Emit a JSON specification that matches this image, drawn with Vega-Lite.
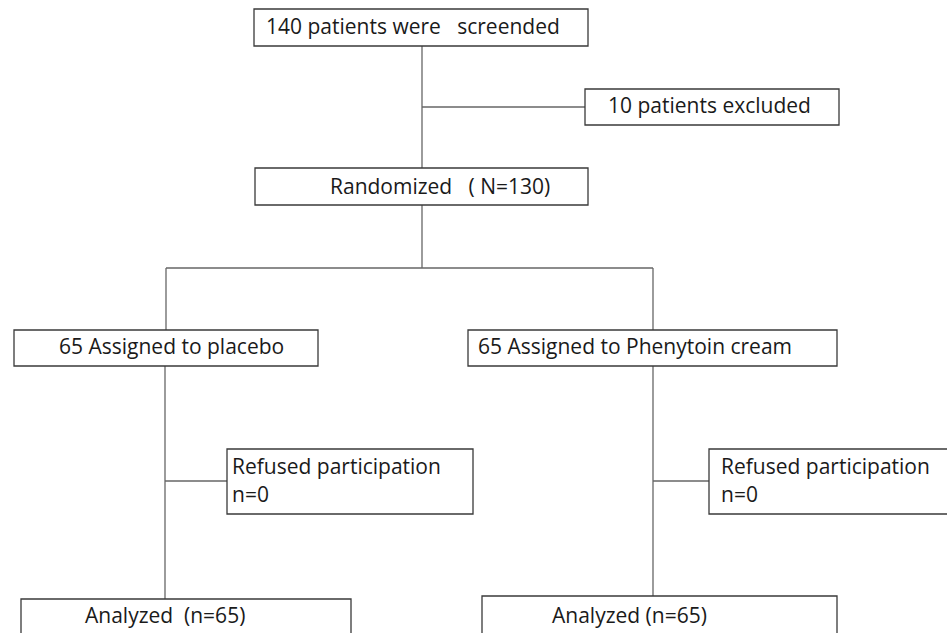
{
  "$schema": "https://vega.github.io/schema/vega-lite/v6.json",
  "width": 947,
  "height": 633,
  "padding": 0,
  "autosize": {"type": "none"},
  "background": "white",
  "config": {"view": {"stroke": null}},
  "datasets": {
    "boxes": [
      {"id": "screened", "x1": 254, "x2": 588, "y1": 9, "y2": 46},
      {"id": "excluded", "x1": 585, "x2": 839, "y1": 89, "y2": 125},
      {"id": "randomized", "x1": 255, "x2": 588, "y1": 168, "y2": 205},
      {"id": "placebo", "x1": 14, "x2": 318, "y1": 330, "y2": 366},
      {"id": "phenytoin", "x1": 468, "x2": 837, "y1": 330, "y2": 366},
      {"id": "refused1", "x1": 227, "x2": 473, "y1": 449, "y2": 514},
      {"id": "refused2", "x1": 709, "x2": 965, "y1": 449, "y2": 514},
      {"id": "analyzed1", "x1": 21, "x2": 351, "y1": 599, "y2": 650},
      {"id": "analyzed2", "x1": 482, "x2": 837, "y1": 596, "y2": 650}
    ],
    "lines": [
      {"x1": 422, "x2": 422, "y1": 46, "y2": 168},
      {"x1": 422, "x2": 585, "y1": 107, "y2": 107},
      {"x1": 422, "x2": 422, "y1": 205, "y2": 268},
      {"x1": 166, "x2": 653, "y1": 268, "y2": 268},
      {"x1": 166, "x2": 166, "y1": 268, "y2": 330},
      {"x1": 653, "x2": 653, "y1": 268, "y2": 330},
      {"x1": 165, "x2": 165, "y1": 366, "y2": 599},
      {"x1": 165, "x2": 227, "y1": 481, "y2": 481},
      {"x1": 653, "x2": 653, "y1": 366, "y2": 596},
      {"x1": 653, "x2": 709, "y1": 481, "y2": 481}
    ],
    "labels": [
      {"label": "140 patients were\u00a0\u00a0 screended", "x": 266, "y": 28},
      {"label": "10 patients excluded", "x": 608, "y": 107},
      {"label": "Randomized\u00a0\u00a0 ( N=130)", "x": 330, "y": 188},
      {"label": "65 Assigned to placebo", "x": 59, "y": 348},
      {"label": "65 Assigned to Phenytoin cream", "x": 478, "y": 348},
      {"label": "Refused participation", "x": 232, "y": 468},
      {"label": "n=0", "x": 232, "y": 496},
      {"label": "Refused participation", "x": 721, "y": 468},
      {"label": "n=0", "x": 721, "y": 496},
      {"label": "Analyzed\u00a0 (n=65)", "x": 85, "y": 617},
      {"label": "Analyzed (n=65)", "x": 552, "y": 617}
    ]
  },
  "layer": [
    {
      "data": {"name": "lines"},
      "mark": {"type": "rule", "stroke": "#666666", "strokeWidth": 1.3},
      "encoding": {
        "x": {"field": "x1", "type": "quantitative", "scale": {"domain": [0, 947], "nice": false, "zero": false}, "axis": null},
        "x2": {"field": "x2"},
        "y": {"field": "y1", "type": "quantitative", "scale": {"domain": [0, 633], "nice": false, "zero": false, "reverse": true}, "axis": null},
        "y2": {"field": "y2"}
      }
    },
    {
      "data": {"name": "boxes"},
      "mark": {"type": "rect", "fill": "white", "stroke": "#3a3a3a", "strokeWidth": 1.3, "clip": true},
      "encoding": {
        "x": {"field": "x1", "type": "quantitative", "scale": {"domain": [0, 947], "nice": false, "zero": false}, "axis": null},
        "x2": {"field": "x2"},
        "y": {"field": "y1", "type": "quantitative", "scale": {"domain": [0, 633], "nice": false, "zero": false, "reverse": true}, "axis": null},
        "y2": {"field": "y2"}
      }
    },
    {
      "data": {"name": "labels"},
      "mark": {"type": "text", "align": "left", "baseline": "middle", "font": "Open Sans", "fontSize": 21, "fill": "#1a1a1a"},
      "encoding": {
        "x": {"field": "x", "type": "quantitative", "scale": {"domain": [0, 947], "nice": false, "zero": false}, "axis": null},
        "y": {"field": "y", "type": "quantitative", "scale": {"domain": [0, 633], "nice": false, "zero": false, "reverse": true}, "axis": null},
        "text": {"field": "label"}
      }
    }
  ]
}
